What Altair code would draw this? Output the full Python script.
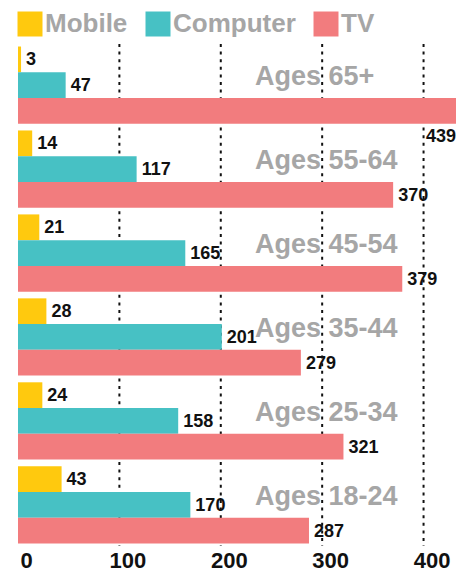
import altair as alt
import pandas as pd

ages = ["Ages 65+", "Ages 55-64", "Ages 45-54", "Ages 35-44", "Ages 25-34", "Ages 18-24"]
devices = ["Mobile", "Computer", "TV"]
mobile = [3, 14, 21, 28, 24, 43]
computer = [47, 117, 165, 201, 158, 170]
tv = [439, 370, 379, 279, 321, 287]
ticks = [0, 100, 200, 300, 400]
colors = ["#FFC90E", "#47C1C4", "#F27C7E"]

rows = []
for i, a in enumerate(ages):
    for d, vals in zip(devices, [mobile, computer, tv]):
        rows.append({"age": a, "device": d, "value": vals[i]})
df = pd.DataFrame(rows)
grid_df = pd.DataFrame({"v": [t for t in ticks if t > 0]})
age_df = pd.DataFrame({"age": ages})

FONT = "Liberation Sans"

x_scale = alt.Scale(domain=[0, 432], nice=False, zero=True, clamp=True)
y_scale = alt.Scale(paddingInner=0.08, paddingOuter=0.03)
y_enc = alt.Y("age:N", sort=ages, axis=None, scale=y_scale)
yoff = alt.YOffset("device:N", sort=devices, scale=alt.Scale(paddingInner=0, paddingOuter=0))

grid = alt.Chart(grid_df).mark_rule(
    color="#111111", strokeWidth=2, strokeDash=[3, 4.6]
).encode(x=alt.X("v:Q", scale=x_scale))

bars = alt.Chart(df).mark_bar().encode(
    x=alt.X("value:Q", scale=x_scale,
            axis=alt.Axis(values=ticks, grid=False, ticks=False, domain=False,
                          labelFont=FONT, labelFontSize=22, labelFontWeight="bold",
                          labelColor="#111111", labelPadding=4, labelOffset=8,
                          labelFlush=False, title=None)),
    y=y_enc,
    yOffset=yoff,
    color=alt.Color("device:N", sort=devices,
                    scale=alt.Scale(domain=devices, range=colors),
                    legend=alt.Legend(orient="none", legendX=-1, legendY=-33,
                                      direction="horizontal", title=None,
                                      symbolType="square", symbolSize=625,
                                      symbolStrokeWidth=0, symbolOpacity=1,
                                      labelFont=FONT, labelFontSize=26,
                                      labelFontWeight="bold", labelColor="#A6A6A6",
                                      labelOffset=2, columnPadding=17,
                                      labelLimit=300)),
)

labels = alt.Chart(df).transform_filter("datum.value < 420").mark_text(
    align="left", baseline="middle", dx=5, dy=1,
    font=FONT, fontSize=18, fontWeight="bold", color="#111111"
).encode(
    x=alt.X("value:Q", scale=x_scale),
    y=y_enc, yOffset=yoff, text="value:Q"
)

labels_big = alt.Chart(df).transform_filter("datum.value >= 420").mark_text(
    align="right", baseline="middle", dx=0, dy=26,
    font=FONT, fontSize=18, fontWeight="bold", color="#111111"
).encode(
    x=alt.X("value:Q", scale=x_scale),
    y=y_enc, yOffset=yoff, text="value:Q"
)

age_text = alt.Chart(age_df).mark_text(
    align="left", baseline="alphabetic", font=FONT, fontSize=27,
    fontWeight="bold", color="#A6A6A6"
).encode(
    x=alt.value(237),
    y=alt.Y("age:N", sort=ages, axis=None, scale=y_scale),
    text="age:N"
)

chart = alt.layer(grid, bars, age_text, labels, labels_big).properties(
    width=438, height=502,
    autosize=alt.AutoSizeParams(type="none"),
    padding={"left": 10, "top": 36, "right": 0, "bottom": 27},
).configure_view(stroke=None)

chart.save("out.html", embed_options={"renderer": "svg", "actions": False})
